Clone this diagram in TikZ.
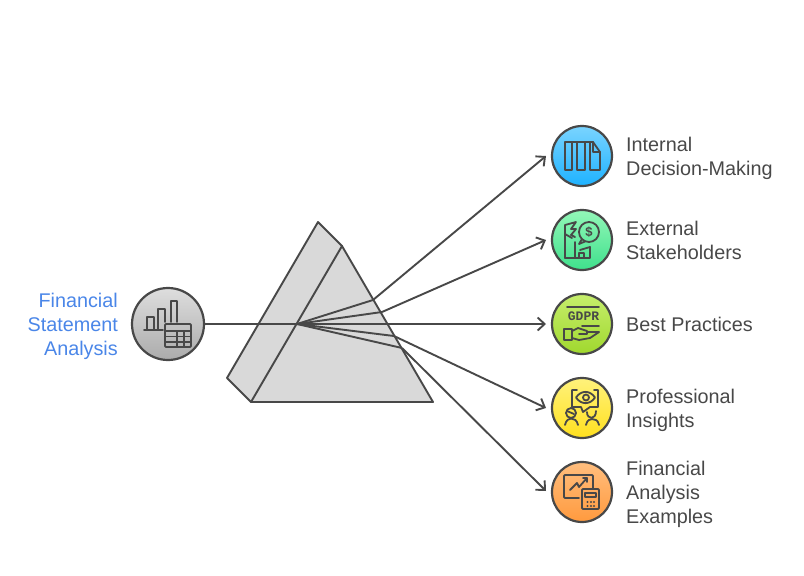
\documentclass[tikz,border=0pt]{standalone}
\usepackage{fontspec}
\setmainfont{Liberation Sans}
\newfontfamily\gdprfont{Liberation Mono}
\usetikzlibrary{arrows.meta}
\definecolor{ink}{HTML}{484848}
\definecolor{prismfill}{HTML}{D9D9D9}
\definecolor{bluetxt}{HTML}{4A86E8}
\definecolor{s1}{HTML}{DEDEDE}\definecolor{s2}{HTML}{ABABAB}
\definecolor{a1}{HTML}{7AD4FF}\definecolor{a2}{HTML}{1EB2FF}
\definecolor{b1}{HTML}{93F7B8}\definecolor{b2}{HTML}{3FE08C}
\definecolor{d1}{HTML}{C6EE6C}\definecolor{d2}{HTML}{A0D82E}
\definecolor{e1}{HTML}{FFF27C}\definecolor{e2}{HTML}{FFE01E}
\definecolor{f1}{HTML}{FFBE7E}\definecolor{f2}{HTML}{FF9A3E}
\tikzset{
 px/.style={x=1pt,y=-1pt},
 ln/.style={draw=ink,line width=1.9pt,line join=round,line cap=round},
 ic/.style={draw=ink,line width=1.8pt,line join=round,line cap=round},
 ray/.style={draw=ink,line width=1.9pt},
 arr/.style={draw=ink,line width=1.9pt,-{Straight Barb[length=7pt,width=13pt,line width=1.9pt]}},
 circ/.style={circle,draw=ink,line width=2.2pt,minimum size=60pt,inner sep=0pt},
 lab/.style={font=\fontsize{19.8}{24}\selectfont,text=ink,align=left,anchor=west,inner sep=0pt}
}
\begin{document}
\begin{tikzpicture}[px]
\useasboundingbox (0,0) rectangle (804,576);
% prism
\coordinate (pa) at (318,222);
\coordinate (pb) at (342,246);
\coordinate (pc) at (433,402);
\coordinate (pd) at (251,402);
\coordinate (pe) at (227,378);
\fill[prismfill] (pa)--(pb)--(pc)--(pd)--(pe)--cycle;
\draw[ln] (pa)--(pb)--(pc)--(pd)--(pe)--cycle;
\draw[ln] (pb)--(pd);
% circles
\node[circ,minimum size=72pt,top color=s1,bottom color=s2] (src) at (168,324) {};
\node[circ,top color=a1,bottom color=a2] (c1) at (582,156) {};
\node[circ,top color=b1,bottom color=b2] (c2) at (582,240) {};
\node[circ,top color=d1,bottom color=d2] (c3) at (582,324) {};
\node[circ,top color=e1,bottom color=e2] (c4) at (582,408) {};
\node[circ,top color=f1,bottom color=f2] (c5) at (582,492) {};
% rays
\coordinate (f) at (297,324);
\coordinate (x1) at (373,300);
\coordinate (x2) at (382,312);
\coordinate (x4) at (394,336);
\coordinate (x5) at (402,348);
\coordinate (e1) at (546,156);
\coordinate (e2) at (546,240);
\coordinate (e3) at (546,324);
\coordinate (e4) at (546,408);
\coordinate (e5) at (546,491);
\draw[ray] (src)--(f);
\draw[ray] (f)--(x1); \draw[ray] (f)--(x2); \draw[ray] (f)--(x4); \draw[ray] (f)--(x5);
\draw[arr] (x1)--(e1);
\draw[arr] (x2)--(e2);
\draw[arr] (f)--(e3);
\draw[arr] (x4)--(e4);
\draw[arr] (x5)--(e5);
% labels
\node[lab,anchor=east,align=right,text=bluetxt] (t0) at (118,326) {Financial\\Statement\\Analysis};
\node[lab] (t1) at (626,158) {Internal\\Decision-Making};
\node[lab] (t2) at (626,240) {External\\Stakeholders};
\node[lab] (t3) at (626,324) {Best Practices};
\node[lab] (t4) at (626,410) {Professional\\Insights};
\node[lab] (t5) at (626,494) {Financial\\Analysis\\Examples};
% icon: source
\begin{scope}[shift={(120,270)}]
\draw[ic] (24,60)--(43,60);
\draw[ic] (27,60)--(27,47)--(34,47)--(34,60);
\draw[ic] (38,60)--(38,39)--(45,39)--(45,52);
\draw[ic] (51,52)--(51,31)--(57,31)--(57,52);
\draw[ic,rounded corners=1pt] (45,54) rectangle (71,77);
\draw[ic] (45,61)--(71,61) (45,66.5)--(71,66.5) (45,72)--(71,72) (57,61)--(57,77) (64,61)--(64,77);
\end{scope}
% icon 1
\begin{scope}[shift={(540,115)}]
\draw[ic] (25,27)--(50,27)--(53,27)--(60,37)--(60,55)--(50,55)--(50,27);
\draw[ic] (25,27)--(25,55)--(32,55)--(32,27);
\draw[ic] (37,27)--(37,55)--(45,55)--(45,27);
\draw[ic] (53,27)--(53,37)--(60,37);
\end{scope}
% icon 2
\begin{scope}[shift={(540,100)}]
\draw[ic] (49,132) circle (10);
\node[font=\fontsize{13}{13}\selectfont\bfseries,text=ink,inner sep=0pt] (dollar) at (49,132) {\$};
\draw[ic] (42,139)--(39,144)--(45,141.5);
\draw[ic] (25,158)--(25,125)--(36,122)--(31,129)--(36,129)--(31,135)--(35,137);
\draw[ic] (25,134)--(32,138);
\draw[ic] (35,158)--(35,142);
\draw[ic] (25,158)--(50,158)--(50,147);
\draw[ic] (39,158)--(39,153)--(44,153)--(44,158);
\draw[ic] (40,150)--(50,147);
\end{scope}
% icon 3
\begin{scope}[shift={(540,285)}]
\draw[ic] (27,22)--(59,22);
\draw[ic] (42,41)--(59,41);
\node[font=\fontsize{13}{13}\selectfont\gdprfont\bfseries,text=ink,inner sep=0pt] (gdpr) at (43.5,31.5) {GDPR};
\draw[ic] (24,44) rectangle (32,55);
\draw[ic] (32,46)--(38,43)--(47,46)--(47,49)--(39,49) (47,47)--(59,47)--(50,53)--(39,55)--(32,53);
\end{scope}
% icon 4
\begin{scope}[shift={(540,370)}]
\draw[ic] (37,20)--(32,20)--(32,37)--(41,37)--(43,42)--(50,37)--(58,37)--(58,20)--(54,20);
\draw[ic] (36,27.5) .. controls (41,20) and (50,20) .. (55,27.5) .. controls (50,35) and (41,35) .. (36,27.5)--cycle;
\draw[ic] (46,27.5) circle (3);
\draw[ic] (31,43) circle (5);
\draw[ic] (27,41)--(34,44);
\draw[ic] (25,55) .. controls (26,50) and (29,48.5) .. (31,48.5) .. controls (34,48.5) and (37,50) .. (38,55);
\draw[ic] (46,55) .. controls (47,50) and (50,49) .. (52,49) .. controls (55,49) and (58,50) .. (59,55);
\draw[ic] (47,42) .. controls (47,50) and (56,50) .. (56,41);
\end{scope}
% icon 5
\begin{scope}[shift={(540,465)}]
\draw[ic,rounded corners=1pt] (39,33)--(24,33)--(24,10)--(53,10)--(53,23);
\draw[ic] (30,25)--(37,18)--(39,22)--(47,13);
\draw[ic] (43,13)--(47,13)--(47,17);
\draw[ic,rounded corners=1pt] (42,24) rectangle (59,44);
\draw[ic] (45,28) rectangle (56,32);
\foreach \xx in {47.5,51,54}{\foreach \yy in {37,41}{\fill[ink] (\xx,\yy) circle (1.1);}}
\end{scope}
\end{tikzpicture}
\end{document}
